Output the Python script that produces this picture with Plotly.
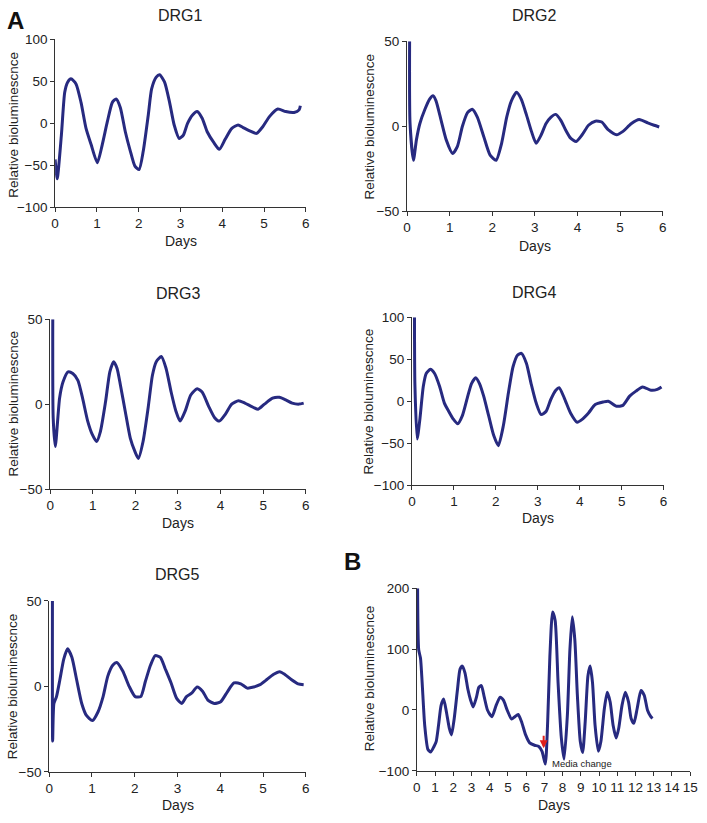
import plotly.graph_objects as go

W, H = 707, 823

# ---- data (days, relative bioluminescence) ----
drg1_days = [0.0, 0.05, 0.15, 0.23, 0.3, 0.38, 0.5, 0.62, 0.74, 0.86, 1.01, 1.13, 1.25, 1.37, 1.46,
             1.56, 1.68, 1.8, 1.91, 2.01, 2.11, 2.23, 2.31, 2.42, 2.5, 2.62, 2.74, 2.85, 2.97, 3.07,
             3.17, 3.29, 3.4, 3.52, 3.64, 3.8, 3.93, 4.07, 4.23, 4.38, 4.5, 4.66, 4.82, 4.97, 5.13,
             5.33, 5.52, 5.72, 5.84, 5.87]
drg1_vals = [-43, -66, -14, 37, 49, 53, 47, 25, -6, -25, -47, -25, 2, 25, 29,
             19, -10, -33, -51, -55, -33, 10, 41, 55, 58, 49, 25, -2, -18, -14,
             0, 10, 14, 6, -10, -23, -31, -19, -6, -2, -5, -9, -12, -4, 8,
             17, 14, 13, 16, 21]

drg2_days = [0.06, 0.07, 0.15, 0.22, 0.3, 0.42, 0.53, 0.61, 0.68, 0.8, 0.92, 1.07, 1.18, 1.3, 1.42,
             1.53, 1.65, 1.8, 1.95, 2.09, 2.22, 2.34, 2.45, 2.57, 2.68, 2.8, 2.92, 3.03, 3.15, 3.26,
             3.38, 3.49, 3.61, 3.72, 3.84, 3.97, 4.11, 4.26, 4.42, 4.57, 4.72, 4.92, 5.07, 5.26, 5.45,
             5.65, 5.8, 5.92]
drg2_vals = [50, 2, -20, -8, 1.5, 10, 16, 18, 15, 3.5, -8, -16, -12, 0, 8,
             10, 5.4, -6, -17, -20, -10, 5.4, 15, 20, 16, 7, -3, -10, -5, 1.5,
             5.4, 7, 3.5, -2, -7, -9, -5, 0.6, 3, 2.5, -2, -5, -3, 1.5, 4,
             2, 0.6, -0.4]

drg3_days = [0.06, 0.07, 0.12, 0.22, 0.3, 0.42, 0.53, 0.65, 0.76, 0.88, 0.99, 1.09, 1.18, 1.3, 1.4,
             1.49, 1.57, 1.65, 1.76, 1.88, 1.99, 2.07, 2.18, 2.3, 2.4, 2.49, 2.61, 2.72, 2.84, 2.95,
             3.05, 3.17, 3.3, 3.45, 3.57, 3.72, 3.86, 3.97, 4.11, 4.26, 4.42, 4.57, 4.72, 4.88, 5.03,
             5.22, 5.38, 5.53, 5.68, 5.84, 5.95]
drg3_vals = [50, -8, -25, 3.5, 13, 19, 18, 14, 3.5, -10, -18, -22, -16, 1.5, 19,
             25, 21, 11, -4, -20, -28, -32, -22, -2, 17, 25, 28, 21, 7, -4,
             -10, -4, 5.4, 9, 7, -1.3, -8, -10, -6, 0, 2, 0.6, -1.3, -3, 0,
             3.5, 4, 2.5, 0.6, 0, 0.6]

drg4_days = [0.06, 0.07, 0.125, 0.19, 0.27, 0.34, 0.44, 0.54, 0.66, 0.77, 0.875, 0.98, 1.09, 1.2, 1.32,
             1.42, 1.52, 1.61, 1.71, 1.83, 1.95, 2.06, 2.18, 2.3, 2.41, 2.52, 2.61, 2.73, 2.84, 2.96,
             3.08, 3.2, 3.31, 3.43, 3.51, 3.63, 3.78, 3.94, 4.05, 4.21, 4.37, 4.56, 4.68, 4.88, 5.03,
             5.19, 5.34, 5.5, 5.7, 5.85, 5.95]
drg4_vals = [100, 20, -45, -21, 17.5, 33, 38, 33, 17.5, -2, -12, -21, -27, -17.5, 4,
             21, 28, 21, 6, -17.5, -41, -53, -29, 10, 41, 55, 57, 45, 21, -2,
             -16, -12, 2, 13, 16, 4, -14, -25, -22, -14, -4, -1, 0, -6, -5,
             6, 12, 17, 13, 14, 17]

drg5_days = [0.075, 0.08, 0.11, 0.17, 0.25, 0.34, 0.43, 0.53, 0.64, 0.76, 0.87, 1.01, 1.14, 1.26, 1.37,
             1.49, 1.58, 1.72, 1.87, 2.01, 2.14, 2.25, 2.37, 2.48, 2.6, 2.71, 2.85, 2.98, 3.1, 3.21,
             3.33, 3.46, 3.59, 3.71, 3.86, 4.01, 4.17, 4.32, 4.48, 4.63, 4.78, 4.93, 5.09, 5.24, 5.39,
             5.51, 5.66, 5.82, 5.95]
drg5_vals = [50, -32, -10, -6, 4, 16, 22, 17, 4, -10, -17, -20, -15, -6, 6,
             12.5, 14, 9, 0, -6, -6, 3, 12.5, 18, 17, 10.5, 2, -7, -10, -6,
             -4, -0.4, -3, -8, -10, -9, -3, 2, 1.5, -1, -0.4, 1, 4, 7, 8.6,
             7, 4, 1.5, 1]

b_days = [0.04, 0.1, 0.2, 0.29, 0.43, 0.61, 0.76, 0.94, 1.06, 1.19, 1.33, 1.47, 1.62, 1.78, 1.9,
          2.05, 2.23, 2.37, 2.5, 2.64, 2.8, 2.95, 3.09, 3.27, 3.4, 3.54, 3.7, 3.88, 4.12, 4.35,
          4.57, 4.75, 4.96, 5.2, 5.38, 5.56, 5.74, 5.97, 6.19, 6.46, 6.69, 6.87, 7.05, 7.18, 7.3,
          7.45, 7.59, 7.75, 7.93, 8.08, 8.26, 8.4, 8.53, 8.67, 8.81, 8.97, 9.1, 9.24, 9.39, 9.51,
          9.64, 9.78, 9.96, 10.1, 10.29, 10.45, 10.61, 10.77, 10.94, 11.08, 11.26, 11.44, 11.62, 11.76, 11.91,
          12.09, 12.3, 12.48, 12.66, 12.84, 12.93]
b_vals = [200, 99, 85, 45, -25, -65, -69, -60, -52, -25, 7.5, 18, -3, -30, -41,
          -14, 34, 67, 72, 61, 34, 16, 5, 21, 37, 40, 21, -0.5, -11, 7.5,
          21, 16, -0.5, -15, -11, -7.5, -19, -41, -54, -58, -60, -68, -89, -19, 88,
          161, 147, 45, -46, -81, -9, 99, 153, 115, 24, -52, -70, -19, 56, 72,
          45, -25, -68, -52, 2, 29, 13, -25, -46, -30, 7.5, 29, 13, -14, -22,
          2, 32, 24, -0.5, -11, -14]

# media change marker (day, value) and label
media_day = 6.96
media_top, media_tip = -40, -63

# ---- panel geometry (pixels in the 707x823 page) ----
panels = [
    # name, days, vals, x-range, y-range, y-ticks, x px, y px
    ("DRG1", drg1_days, drg1_vals, [0, 6], [-100, 100], [-100, -50, 0, 50, 100], (52, 307), (33, 204)),
    ("DRG2", drg2_days, drg2_vals, [0, 6], [-50, 50], [-50, 0, 50], (410, 670), (35, 208)),
    ("DRG3", drg3_days, drg3_vals, [0, 6], [-50, 50], [-50, 0, 50], (47, 307), (318, 491)),
    ("DRG4", drg4_days, drg4_vals, [0, 6], [-100, 100], [-100, -50, 0, 50, 100], (415, 671), (316, 487)),
    ("DRG5", drg5_days, drg5_vals, [0, 6], [-50, 50], [-50, 0, 50], (46, 307), (605, 779)),
    ("", b_days, b_vals, [0, 15], [-100, 200], [-100, 0, 100, 200], (420, 698), (592, 778)),
]

# text positions: title centre, Days centre, y-title centre (pixels)
text_pos = [
    ((180, 9), (180, 238), (10, 120)),
    ((540, 9), (540, 243), (372, 122)),
    ((178, 292), (177, 526), (10, 404)),
    ((540, 291), (543, 520), (371, 402)),
    ((177, 578), (177, 813), (9, 692)),
    (None, (560, 813), (372, 684)),
]

LINE = "#272a80"
AX = "#333333"
FONT = "Arial, Liberation Sans, sans-serif"

fig = go.Figure()
layout = dict(width=W, height=H, margin=dict(l=0, r=0, t=0, b=0),
              paper_bgcolor="white", plot_bgcolor="white", showlegend=False,
              font=dict(family=FONT, color="#222"))
annotations = []


def px(x, y):
    return x / W, 1 - y / H


for i, (name, days, vals, xr, yr, yt, (x0, x1), (y0, y1)) in enumerate(panels, start=1):
    xa, ya = f"x{i}", f"y{i}"
    fig.add_trace(go.Scatter(x=days, y=vals, mode="lines", xaxis=xa, yaxis=ya,
                             line=dict(color=LINE, width=3, shape="spline", smoothing=0.6),
                             hoverinfo="skip"))
    common = dict(showline=True, linecolor=AX, linewidth=1, ticks="outside", ticklen=4,
                  tickcolor=AX, showgrid=False, zeroline=False,
                  tickfont=dict(size=13.5, family=FONT, color="#222"))
    layout[f"xaxis{i}"] = dict(domain=[x0 / W, x1 / W], anchor=ya, range=xr,
                               tickvals=list(range(xr[0], xr[1] + 1)), **common)
    layout[f"yaxis{i}"] = dict(domain=[1 - y1 / H, 1 - y0 / H], anchor=xa, range=yr,
                               tickvals=yt, **common)

    tpos, dpos, ypos = text_pos[i - 1]
    if tpos:
        annotations.append(dict(text=name, x=px(*tpos)[0], y=px(*tpos)[1], xref="paper", yref="paper",
                                showarrow=False, font=dict(size=16), xanchor="center", yanchor="middle"))
    annotations.append(dict(text="Days", x=px(*dpos)[0], y=px(*dpos)[1], xref="paper", yref="paper",
                            showarrow=False, font=dict(size=14), xanchor="center", yanchor="middle"))
    annotations.append(dict(text="Relative bioluminescnce", x=px(*ypos)[0], y=px(*ypos)[1],
                            xref="paper", yref="paper", textangle=-90, showarrow=False,
                            font=dict(size=13.5), xanchor="center", yanchor="middle"))

# panel letters
annotations.append(dict(text="<b>A</b>", x=px(12, 14)[0], y=px(12, 14)[1], xref="paper", yref="paper",
                        showarrow=False, font=dict(size=24, color="#111"), xanchor="center", yanchor="middle"))
annotations.append(dict(text="<b>B</b>", x=px(355, 565)[0], y=px(355, 565)[1], xref="paper", yref="paper",
                        showarrow=False, font=dict(size=24, color="#111"), xanchor="center", yanchor="middle"))

# media change arrow + label
annotations.append(dict(x=media_day, y=media_tip, ax=media_day, ay=media_top, xref="x6", yref="y6",
                        axref="x6", ayref="y6", text="", showarrow=True, arrowhead=2, arrowsize=0.8,
                        arrowwidth=2, arrowcolor="#e0201b"))
annotations.append(dict(x=7.33, y=-88, xref="x6", yref="y6", text="Media change", showarrow=False,
                        xanchor="left", yanchor="middle", font=dict(size=9.5, color="#222")))

layout["annotations"] = annotations
fig.update_layout(**layout)

# drop the default 8px page margin so the figure sits at the window origin
fig.write_html("out.html", config={"displayModeBar": False},
               post_script="document.body.style.margin='0';")
